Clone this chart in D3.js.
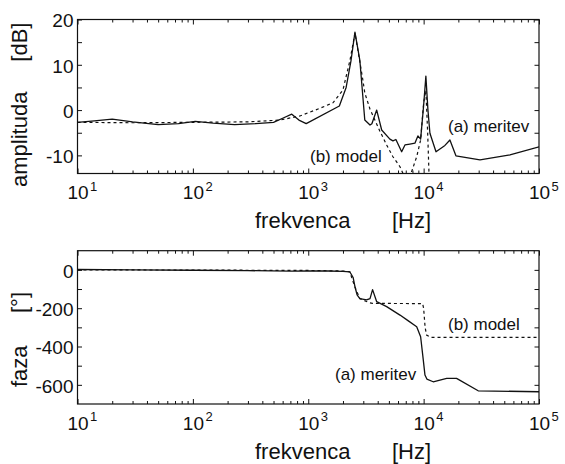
<!DOCTYPE html>
<html>
<head>
<meta charset="utf-8">
<script src="https://cdn.jsdelivr.net/npm/d3@7/dist/d3.min.js"></script>
<style>
    body { margin: 0; background: #fff; }
    svg { display: block; font-family: "Liberation Sans", Arial, Helvetica, sans-serif; }
</style>
</head>
<body>
<div id="chart"></div>
<script>
// values
// (a) meritev = measurement, (b) model

// amplitude, measured
const ampFreqA = [10, 14, 20, 30, 50, 75, 105, 150, 230, 350, 500, 600, 720, 830, 960,
    1860, 2130, 2350, 2540, 2800, 3090, 3430, 3560, 3920, 4330, 5100, 5420, 5750, 6450,
    6890, 7600, 8400, 8920, 9420, 10000, 10460, 10900, 11340, 12800, 15300, 16900, 19050,
    30800, 56000, 100000];
const ampDbA = [-2.7, -2.4, -2.0, -2.6, -3.2, -3.0, -2.5, -2.9, -3.2, -3.0, -2.7, -1.8, -0.9, -2.2, -3.0,
    0.9, 5.0, 11.0, 17.2, 11.0, -2.2, -3.3, -3.0, 0.0, -4.4, -6.4, -6.8, -6.5, -9.2,
    -7.7, -7.5, -7.3, -5.7, -6.4, 1.0, 7.5, 0.0, -5.1, -9.2, -7.8, -6.6, -10.1,
    -11.0, -9.9, -8.1];

// amplitude, model
const ampFreqB = [10, 30, 100, 300, 568, 847, 1262, 1637, 1997, 2300, 2540, 2690, 2980, 3090,
    3430, 4170, 4780, 5420, 6240, 6900, 7500, 7870, 8710, 9420, 10000, 10460, 10840, 11120,
    12000, 100000];
const ampDbB = [-2.7, -2.8, -2.7, -2.6, -2.2, -1.3, 0.4, 1.6, 4.4, 11.0, 17.0, 13.3, 6.5, 3.8,
    0.2, -4.6, -7.7, -10.3, -12.5, -15.0, -18.0, -13.6, -10.3, -6.6, 1.6, 4.4, -5.0, -13.6,
    -25.0, -40.0];

// phase, measured
const phFreqA = [10, 30, 100, 300, 700, 1000, 1500, 2000, 2290, 2450, 2540, 2650, 2800, 3200,
    3430, 3610, 3920, 4780, 6240, 7320, 8710, 9420, 9930, 10270, 10670, 12100, 15850, 19300,
    29700, 100000];
const phDegA = [2, 0, -2, -4, -7, -6, -6, -8, -10, -40, -88, -130, -150, -157,
    -150, -103, -166, -192, -236, -265, -297, -349, -470, -549, -570, -584, -566, -566,
    -631, -636];

// phase, model
const phFreqB = [10, 100, 1000, 2000, 2290, 2540, 2800, 3400, 3600, 9800, 10000, 10300, 10600,
    11500, 100000];
const phDegB = [0, -1, -3, -6, -10, -90, -150, -172, -175, -176, -200, -300, -340,
    -352, -352];

// axis ticks
const decadeExps = [1, 2, 3, 4, 5];
const ampTicks = [-10, -5, 0, 5, 10, 15, 20];
const ampLabels = [-10, 0, 10, 20];
const phTicks = [-600, -500, -400, -300, -200, -100, 0];
const phLabels = [-600, -400, -200, 0];

// layout
const width = 565;
const height = 464;
const left = 77.5;
const right = 539;
const ink = "#111";

var svg = d3.select("#chart")
    .append("svg")
    .attr("width", width)
    .attr("height", height);

var panels = [
    {
        id: "amp", top: 19.5, bottom: 173.5, domain: [-14, 20],
        ticks: ampTicks, labels: ampLabels,
        a: [ampFreqA, ampDbA], b: [ampFreqB, ampDbB],
        yTitle: ["amplituda", "[dB]"], yTitlePos: [187, 61.7],
        notes: [["(a) meritev", 448, 132], ["(b) model", 310, 162]]
    },
    {
        id: "ph", top: 250.7, bottom: 404, domain: [-700, 100],
        ticks: phTicks, labels: phLabels,
        a: [phFreqA, phDegA], b: [phFreqB, phDegB],
        yTitle: ["faza", "[\u00b0]"], yTitlePos: [387, 313],
        notes: [["(b) model", 448, 330], ["(a) meritev", 335, 380]]
    }
];

// minor ticks of the log axis
var minorTicks = [];
for (var e = 1; e < 5; e++) {
    for (var m = 2; m < 10; m++) minorTicks.push(m * Math.pow(10, e));
}

panels.forEach(drawPanel);

function drawPanel(p) {
    var x = d3.scaleLog().domain([10, 1e5]).range([left, right]);
    var y = d3.scaleLinear().domain(p.domain).range([p.bottom, p.top]);
    var g = svg.append("g").attr("id", p.id);

    g.append("clipPath").attr("id", p.id + "-clip")
        .append("rect")
        .attr("x", left).attr("y", p.top)
        .attr("width", right - left).attr("height", p.bottom - p.top);

    /////////////////
    // tick marks  //
    /////////////////
    var decades = decadeExps.map(function (d) { return Math.pow(10, d); });

    function addAxis(axis, tx, ty) {
        var a = g.append("g")
            .attr("transform", "translate(" + tx + "," + ty + ")")
            .call(axis);
        a.select(".domain").remove();
        a.selectAll(".tick line").attr("stroke", ink).attr("stroke-width", 1);
        return a;
    }

    var xAxis = addAxis(d3.axisBottom(x).tickValues(decades).tickSize(-5)
        .tickPadding(12.5).tickFormat(function () { return "10"; }), 0, p.bottom);
    addAxis(d3.axisBottom(x).tickValues(minorTicks).tickSize(-3).tickFormat(""), 0, p.bottom);
    addAxis(d3.axisTop(x).tickValues(decades).tickSize(-5).tickFormat(""), 0, p.top);
    addAxis(d3.axisTop(x).tickValues(minorTicks).tickSize(-3).tickFormat(""), 0, p.top);

    xAxis.selectAll("text")
        .attr("fill", ink)
        .style("font-size", "19px");
    // exponent next to each "10"
    xAxis.selectAll(".tick")
        .append("text")
        .attr("x", 12)
        .attr("y", 17)
        .attr("fill", ink)
        .style("font-size", "13px")
        .style("text-anchor", "start")
        .text(function (d) { return Math.round(Math.log10(d)); });

    var yAxis = addAxis(d3.axisLeft(y).tickValues(p.ticks).tickSize(-4.5).tickPadding(4)
        .tickFormat(function (d) { return p.labels.indexOf(d) >= 0 ? d : ""; }), left, 0);
    yAxis.selectAll("text")
        .attr("fill", ink)
        .attr("dy", "0.38em")
        .style("font-size", "19px");
    addAxis(d3.axisRight(y).tickValues(p.ticks).tickSize(-4.5).tickFormat(""), right, 0);

    // frame
    g.append("rect")
        .attr("x", left).attr("y", p.top)
        .attr("width", right - left).attr("height", p.bottom - p.top)
        .attr("fill", "none")
        .attr("stroke", ink)
        .attr("stroke-width", 1.2);

    ////////////
    // lines  //
    ////////////
    var line = d3.line()
        .x(function (d) { return x(d[0]); })
        .y(function (d) { return y(d[1]); });

    var lines = g.append("g").attr("clip-path", "url(#" + p.id + "-clip)");

    lines.append("path")
        .datum(d3.zip(p.b[0], p.b[1]))
        .attr("fill", "none")
        .attr("stroke", ink)
        .attr("stroke-width", 1.2)
        .attr("stroke-dasharray", "3,3")
        .attr("d", line);

    lines.append("path")
        .datum(d3.zip(p.a[0], p.a[1]))
        .attr("fill", "none")
        .attr("stroke", ink)
        .attr("stroke-width", 1.3)
        .attr("stroke-linejoin", "round")
        .attr("d", line);

    ////////////
    // texts  //
    ////////////
    p.notes.forEach(function (n) {
        g.append("text")
            .attr("x", n[1]).attr("y", n[2])
            .attr("fill", ink)
            .style("font-size", "17px")
            .text(n[0]);
    });

    var xt = g.append("text")
        .attr("y", p.bottom + 54.5)
        .attr("fill", ink)
        .style("font-size", "22px");
    xt.append("tspan").attr("x", 255).text("frekvenca");
    xt.append("tspan").attr("x", 392).text("[Hz]");

    var yt = g.append("text")
        .attr("transform", "translate(26.5,0)rotate(-90)")
        .attr("fill", ink)
        .style("font-size", "22px");
    yt.append("tspan").attr("x", -p.yTitlePos[0]).text(p.yTitle[0]);
    yt.append("tspan").attr("x", -p.yTitlePos[1]).text(p.yTitle[1]);
}
</script>
</body>
</html>
